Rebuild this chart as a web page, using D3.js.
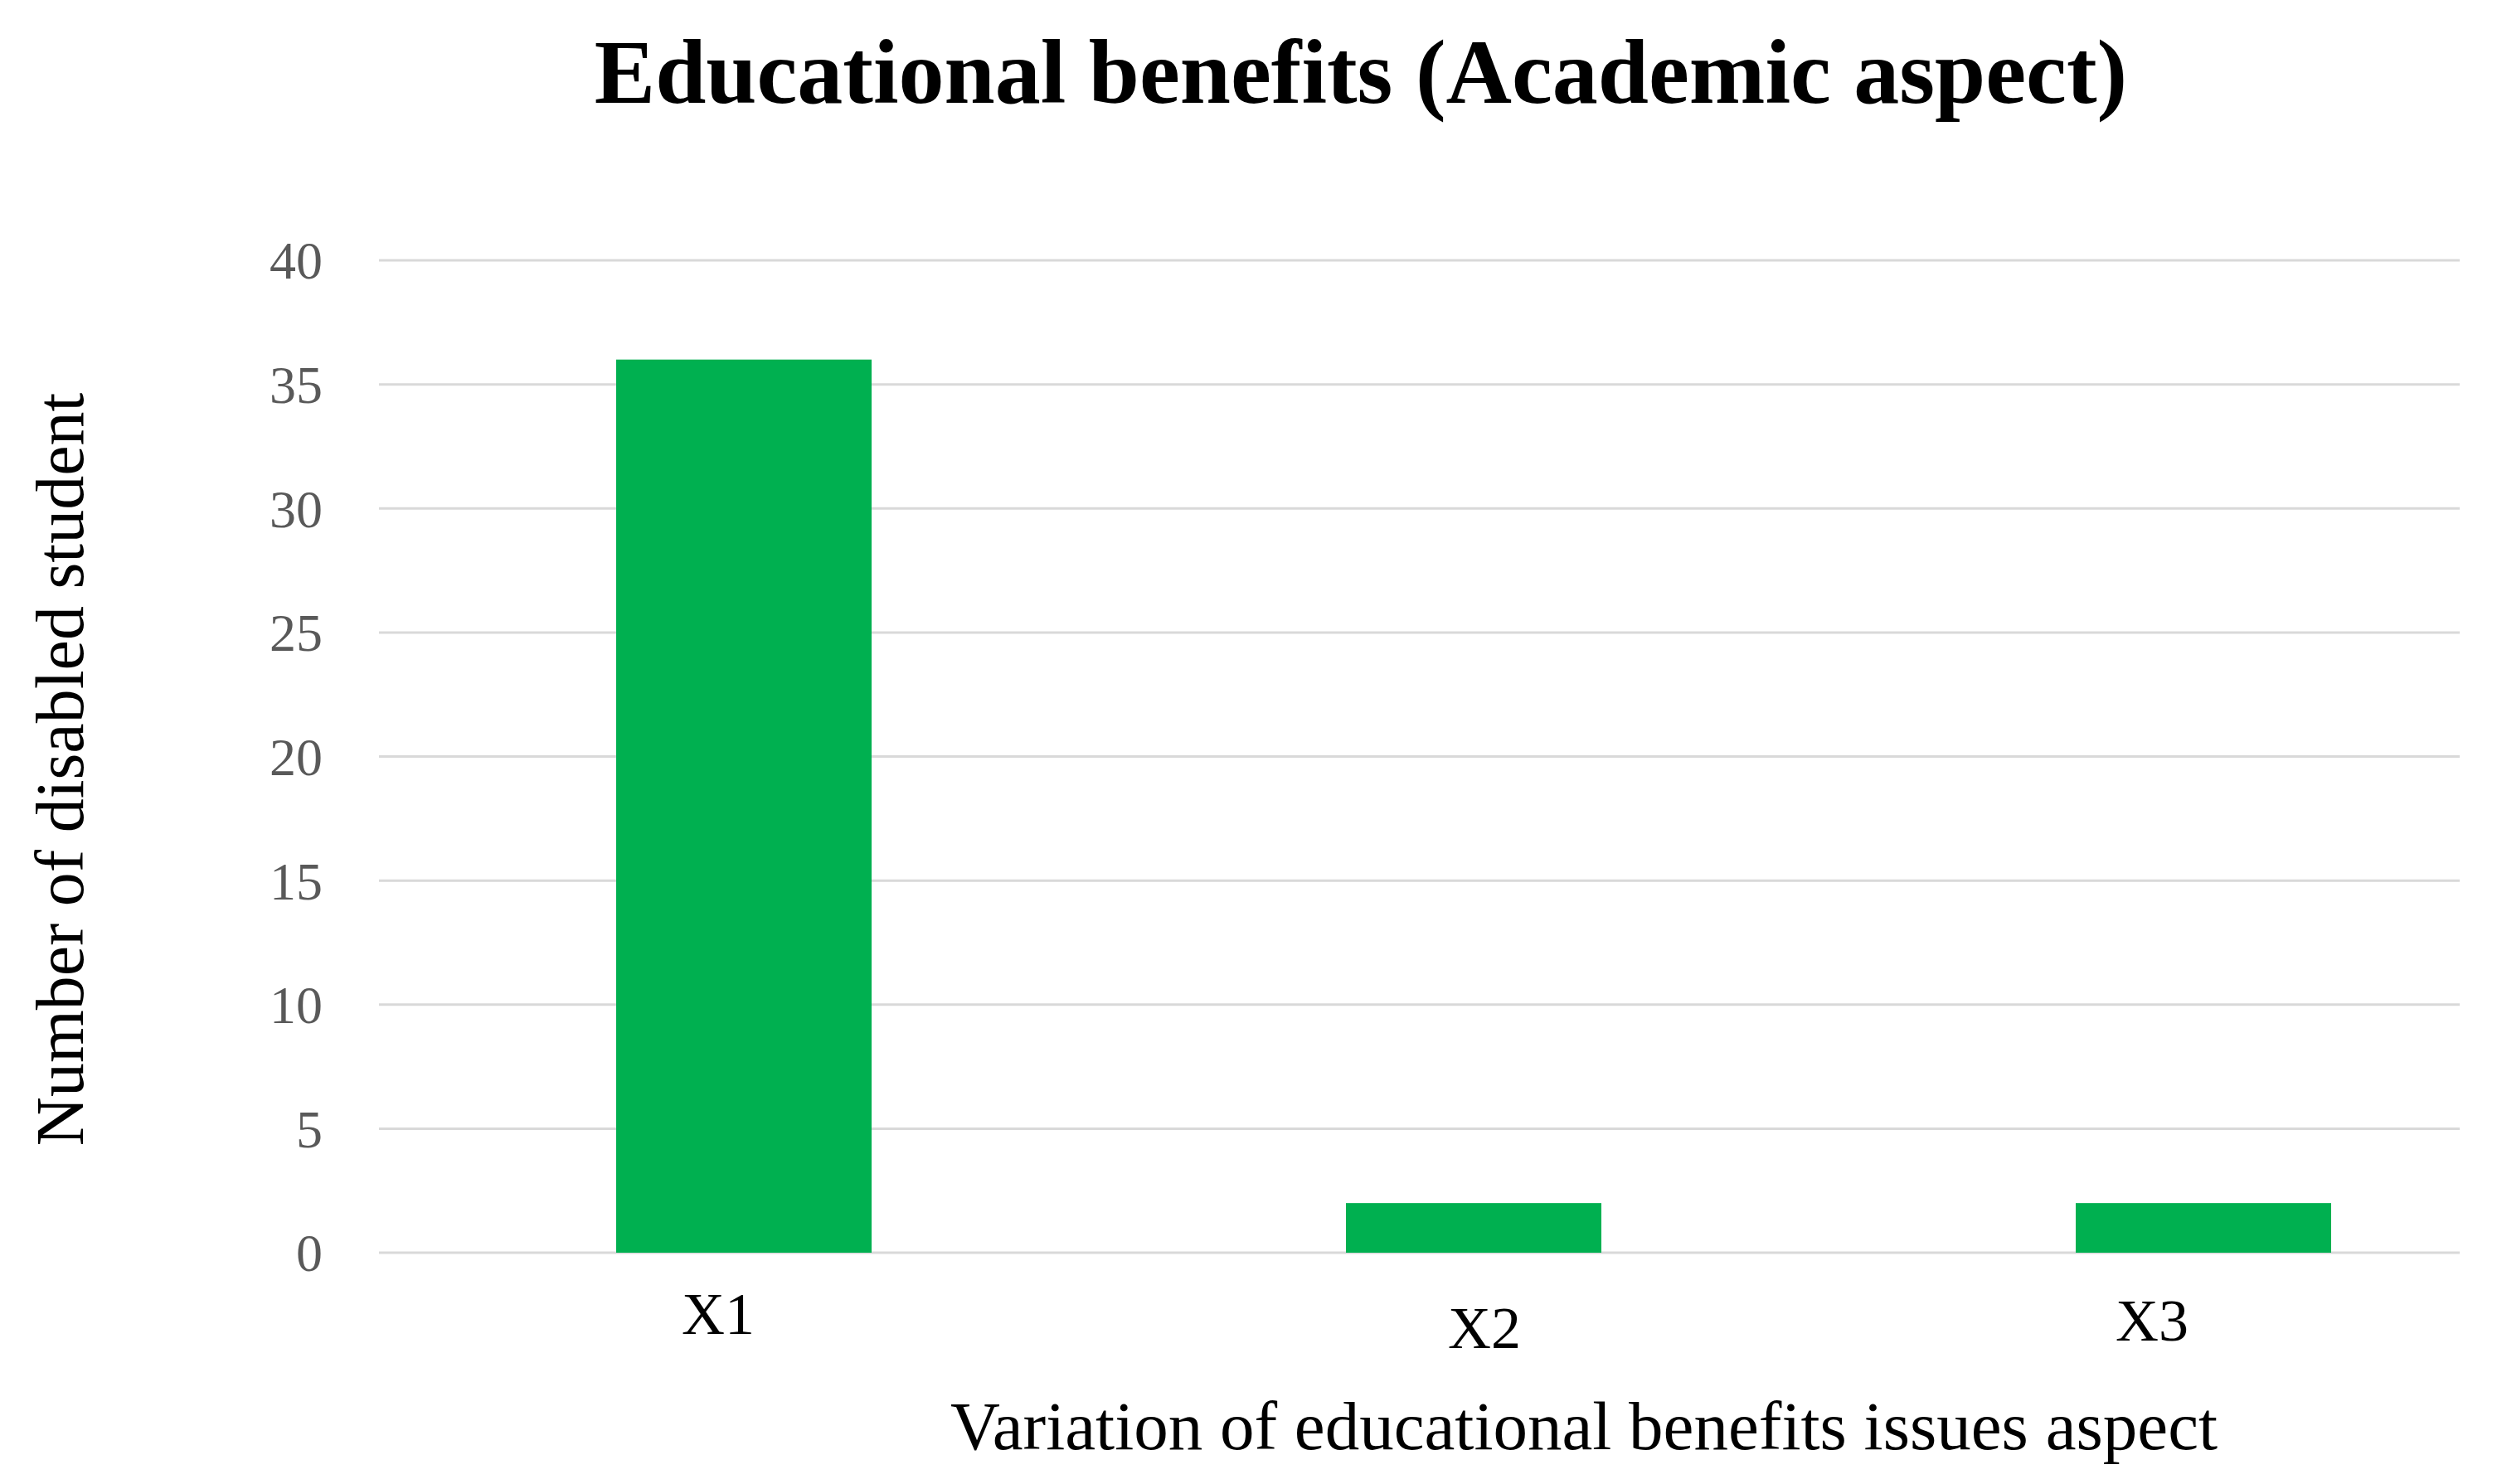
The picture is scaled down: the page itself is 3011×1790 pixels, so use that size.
<!DOCTYPE html>
<html><head><meta charset="utf-8">
<script src="https://cdn.jsdelivr.net/npm/d3@7"></script>
<style>body{margin:0;background:#fff}</style></head>
<body><svg id="c"></svg>
<script>
const categories = ["X1", "X2", "X3"];
const values = [36, 2, 2];
const yTicks = [0, 5, 10, 15, 20, 25, 30, 35, 40];
// the x labels sit a little uneven in the source
const labelDx = [-31, 13, -62];
const labelDy = [98, 115, 106];

const width = 3011, height = 1790;
const margin = { top: 314, right: 45, bottom: 279, left: 457 };
const innerW = width - margin.left - margin.right;
const innerH = height - margin.top - margin.bottom;
const font = "'Liberation Serif', serif";

const svg = d3.select("#c").attr("width", width).attr("height", height);
const g = svg.append("g").attr("transform", `translate(${margin.left},${margin.top})`);

// category bands run a bit past the gridlines, as in the source
const x = d3.scaleBand().domain(categories).range([0, 2640]).paddingInner(0.65).paddingOuter(0.325);
const y = d3.scaleLinear().domain([0, 40]).range([innerH, 0]);

g.selectAll(".grid").data(yTicks).enter().append("line")
  .attr("x1", 0).attr("x2", innerW)
  .attr("y1", d => y(d)).attr("y2", d => y(d))
  .style("stroke", "#d9d9d9").style("stroke-width", 3);

g.selectAll(".ytick").data(yTicks).enter().append("text")
  .attr("x", -68).attr("y", d => y(d)).attr("dy", "0.35em")
  .attr("text-anchor", "end")
  .style("font-family", font).style("font-size", "64px").style("fill", "#595959")
  .text(d => d);

g.selectAll(".bar").data(values).enter().append("rect")
  .attr("x", (d, i) => x(categories[i]))
  .attr("y", d => y(d))
  .attr("width", x.bandwidth())
  .attr("height", d => innerH - y(d))
  .style("fill", "#00b050");

g.selectAll(".xlab").data(categories).enter().append("text")
  .attr("x", (d, i) => x(d) + x.bandwidth() / 2 + labelDx[i])
  .attr("y", (d, i) => innerH + labelDy[i])
  .attr("text-anchor", "middle")
  .style("font-family", font).style("font-size", "72px").style("fill", "#000")
  .text(d => d);

svg.append("text").attr("x", 1641).attr("y", 124).attr("text-anchor", "middle")
  .style("font-family", font).style("font-size", "110px").style("font-weight", "bold")
  .text("Educational benefits (Academic aspect)");

svg.append("text").attr("x", 1910).attr("y", 1748).attr("text-anchor", "middle")
  .style("font-family", font).style("font-size", "83px")
  .text("Variation of educational benefits issues aspect");

svg.append("text").attr("transform", "translate(100,928) rotate(-90)").attr("text-anchor", "middle")
  .style("font-family", font).style("font-size", "82px")
  .text("Number of disabled student");
</script></body></html>
